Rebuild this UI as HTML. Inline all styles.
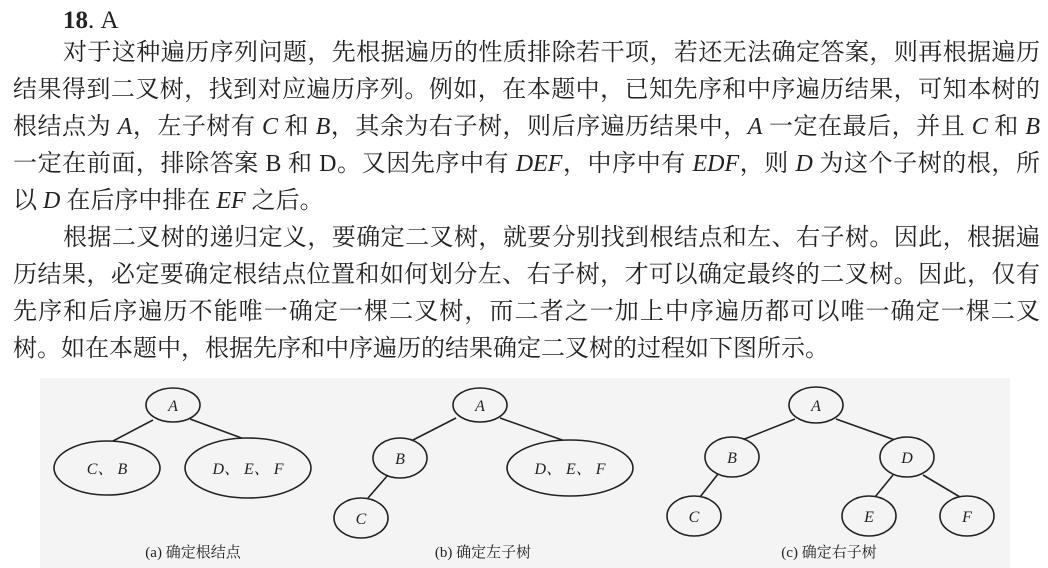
<!DOCTYPE html>
<html><head><meta charset="utf-8">
<style>
html,body{margin:0;padding:0;background:#fff;}
body{width:1048px;height:568px;position:relative;overflow:hidden;font-family:"Liberation Serif","Noto Serif CJK SC",serif;color:#222;}
.l{position:absolute;left:13px;width:1027px;font-size:24px;line-height:30px;white-space:nowrap;text-align:justify;text-align-last:justify;}
.nj{text-align-last:left;}
.ind{left:63px;width:977px;}
i{font-style:italic;}
.t{position:absolute;left:63px;top:7px;font-size:25px;font-weight:bold;}
</style></head><body>
<div class="t">18<span style="font-weight:normal">.</span> <span style="font-weight:normal">A</span></div>
<div class="l ind" style="top:38px">对于这种遍历序列问题，先根据遍历的性质排除若干项，若还无法确定答案，则再根据遍历</div>
<div class="l" style="top:75px">结果得到二叉树，找到对应遍历序列。例如，在本题中，已知先序和中序遍历结果，可知本树的</div>
<div class="l" style="top:112px">根结点为 <i>A</i>，左子树有 <i>C</i> 和 <i>B</i>，其余为右子树，则后序遍历结果中，<i>A</i> 一定在最后，并且 <i>C</i> 和 <i>B</i></div>
<div class="l" style="top:149px">一定在前面，排除答案 B 和 D。又因先序中有 <i>DEF</i>，中序中有 <i>EDF</i>，则 <i>D</i> 为这个子树的根，所</div>
<div class="l nj" style="top:186px">以 <i>D</i> 在后序中排在 <i>EF</i> 之后。</div>
<div class="l ind" style="top:223px">根据二叉树的递归定义，要确定二叉树，就要分别找到根结点和左、右子树。因此，根据遍</div>
<div class="l" style="top:260px">历结果，必定要确定根结点位置和如何划分左、右子树，才可以确定最终的二叉树。因此，仅有</div>
<div class="l" style="top:297px">先序和后序遍历不能唯一确定一棵二叉树，而二者之一加上中序遍历都可以唯一确定一棵二叉</div>
<div class="l nj" style="top:334px">树。如在本题中，根据先序和中序遍历的结果确定二叉树的过程如下图所示。</div>

<svg style="position:absolute;left:0;top:0" width="1048" height="568" xmlns="http://www.w3.org/2000/svg">
<rect x="40" y="378" width="970" height="190" fill="#f4f4f4"/>
<g stroke="#222" stroke-width="1.6" fill="none">
<line x1="153" y1="420" x2="113" y2="441"/>
<line x1="190" y1="419" x2="247" y2="440"/>
<ellipse cx="173" cy="405" rx="27" ry="17" fill="#f4f4f4"/>
<ellipse cx="107" cy="468" rx="53" ry="27" fill="#f4f4f4"/>
<ellipse cx="248" cy="468" rx="63" ry="30" fill="#f4f4f4"/>
<line x1="456" y1="418" x2="413" y2="440"/>
<line x1="500" y1="418" x2="565" y2="441"/>
<line x1="388" y1="475" x2="368" y2="498"/>
<ellipse cx="480" cy="405" rx="27" ry="17" fill="#f4f4f4"/>
<ellipse cx="400" cy="458" rx="27" ry="20" fill="#f4f4f4"/>
<ellipse cx="361" cy="518" rx="27" ry="20" fill="#f4f4f4"/>
<ellipse cx="570" cy="468" rx="63" ry="28" fill="#f4f4f4"/>
<line x1="795" y1="419" x2="742" y2="440"/>
<line x1="836" y1="419" x2="895" y2="440"/>
<line x1="718" y1="474" x2="700" y2="497"/>
<line x1="893" y1="475" x2="875" y2="497"/>
<line x1="923" y1="475" x2="960" y2="497"/>
<ellipse cx="816" cy="405" rx="27" ry="18" fill="#f4f4f4"/>
<ellipse cx="732" cy="457" rx="27" ry="20" fill="#f4f4f4"/>
<ellipse cx="907" cy="457" rx="27" ry="20" fill="#f4f4f4"/>
<ellipse cx="694" cy="516" rx="27" ry="20" fill="#f4f4f4"/>
<ellipse cx="869" cy="516" rx="27" ry="20" fill="#f4f4f4"/>
<ellipse cx="967" cy="516" rx="27" ry="20" fill="#f4f4f4"/>
</g>
<g font-family="Liberation Serif,'Noto Serif CJK SC',serif" font-size="16" font-style="italic" fill="#222" text-anchor="middle">
<text x="173" y="411">A</text>
<text x="107" y="474">C、 B</text>
<text x="248" y="474">D、 E、 F</text>
<text x="480" y="411">A</text>
<text x="400" y="464">B</text>
<text x="361" y="524">C</text>
<text x="570" y="474">D、 E、 F</text>
<text x="816" y="411">A</text>
<text x="732" y="463">B</text>
<text x="907" y="463">D</text>
<text x="694" y="522">C</text>
<text x="869" y="522">E</text>
<text x="967" y="522">F</text>
</g>
<g font-family="Liberation Serif,'Noto Serif CJK SC',serif" font-size="15" fill="#222" text-anchor="middle">
<text x="193" y="557">(a) 确定根结点</text>
<text x="483" y="557">(b) 确定左子树</text>
<text x="829" y="557">(c) 确定右子树</text>
</g>
</svg>
</body></html>
